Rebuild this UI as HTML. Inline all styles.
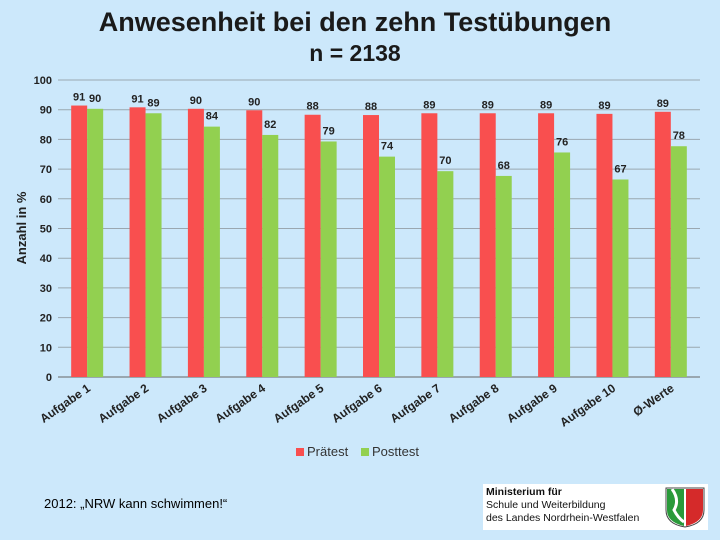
<!DOCTYPE html>
<html><head><meta charset="utf-8"><style>
body{margin:0;width:720px;height:540px;background:#cce8fb;font-family:"Liberation Sans",Arial,sans-serif;overflow:hidden;position:relative}
.t{position:absolute;left:0;width:710px;text-align:center;font-weight:bold;color:#1a1a1a}
</style></head><body>
<div class="t" style="top:7px;font-size:27px;width:710px">Anwesenheit bei den zehn Testübungen</div>
<div class="t" style="top:40px;font-size:23px">n = 2138</div>
<svg id="c" width="720" height="540" style="position:absolute;left:0;top:0"></svg>
<div style="position:absolute;left:44px;top:496px;font-size:13px;color:#000">2012: „NRW kann schwimmen!“</div>
<div style="position:absolute;left:483px;top:484px;width:225px;height:46px;background:#fff;font-size:10.5px;line-height:13px;color:#111;padding:2px 0 0 3px;box-sizing:border-box">
<b>Ministerium für</b><br>Schule und Weiterbildung<br>des Landes Nordrhein-Westfalen
<svg style="position:absolute;right:2px;top:2px" width="42" height="42"><path d="M2 2H40V24Q40 38 21 41Q2 38 2 24Z" fill="#fff" stroke="#444"/><path d="M3 3H20V40Q3 36 3 24Z" fill="#2a9a3a"/><path d="M22 3H39V24Q39 36 22 40Z" fill="#d52a2a"/><path d="M8 3Q16 14 10 24Q14 32 20 36" stroke="#fff" stroke-width="3" fill="none"/></svg>
</div>
<script>
const categories=["Aufgabe 1","Aufgabe 2","Aufgabe 3","Aufgabe 4","Aufgabe 5","Aufgabe 6","Aufgabe 7","Aufgabe 8","Aufgabe 9","Aufgabe 10","Ø-Werte"];
const pretest=[91.4,90.8,90.3,89.8,88.3,88.2,88.8,88.8,88.8,88.6,89.3];
const posttest=[90.3,88.8,84.3,81.5,79.3,74.2,69.3,67.7,75.6,66.5,77.7];
const pretestLabels=["91","91","90","90","88","88","89","89","89","89","89"];
const posttestLabels=["90","89","84","82","79","74","70","68","76","67","78"];
const yTicks=[0,10,20,30,40,50,60,70,80,90,100];
const NS="http://www.w3.org/2000/svg",svg=document.getElementById('c');
const x0=58,x1=700,y0=377,y1=80,gw=(x1-x0)/categories.length,bw=16;
const y=v=>y0-(v/100)*(y0-y1);
function mk(t,a,txt){const e=document.createElementNS(NS,t);for(const k in a)e.setAttribute(k,a[k]);if(txt!=null)e.textContent=txt;svg.appendChild(e);return e;}
yTicks.forEach(v=>{
 const l=mk('line',{x1:x0,x2:x1,y1:y(v),y2:y(v),stroke:v===0?'#666':'#9aa7b0','stroke-width':1});
 
 
 const t=mk('text',{x:52,y:y(v)+4,'text-anchor':'end','font-size':11,'font-weight':'bold',fill:'#222'},v);
 
 
});
const yt=mk('text',{x:26,y:228,'text-anchor':'middle','font-size':13,'font-weight':'bold',fill:'#222',transform:'rotate(-90 26 228)'},'Anzahl in %');


categories.forEach((c,i)=>{
 const cx=x0+gw*(i+0.5);
 const r=mk('rect',{x:cx-bw,y:y(pretest[i]),width:bw,height:y0-y(pretest[i]),fill:'#f94f4f'});
 
 
 const g=mk('rect',{x:cx,y:y(posttest[i]),width:bw,height:y0-y(posttest[i]),fill:'#92d050'});
 
 
 const a=mk('text',{x:cx-bw/2,y:y(pretest[i])-5,'text-anchor':'middle','font-size':11,'font-weight':'bold',fill:'#222'},pretestLabels[i]);
 
 
 const b=mk('text',{x:cx+bw/2,y:y(posttest[i])-7,'text-anchor':'middle','font-size':11,'font-weight':'bold',fill:'#222'},posttestLabels[i]);
 
 
 const xl=mk('text',{x:cx+4,y:390,'text-anchor':'end','font-size':12,'font-weight':'bold',fill:'#222',transform:`rotate(-35 ${cx+4} 390)`},c);
 
 
});
[[296,'#f94f4f','Prätest'],[361,'#92d050','Posttest']].forEach(([lx,col,txt])=>{
 const s=mk('rect',{x:lx,y:448,width:8,height:8,fill:col});
 
 
 const t=mk('text',{x:lx+11,y:456,'font-size':13,fill:'#333'},txt);
 
 
});
</script>
</body></html>
